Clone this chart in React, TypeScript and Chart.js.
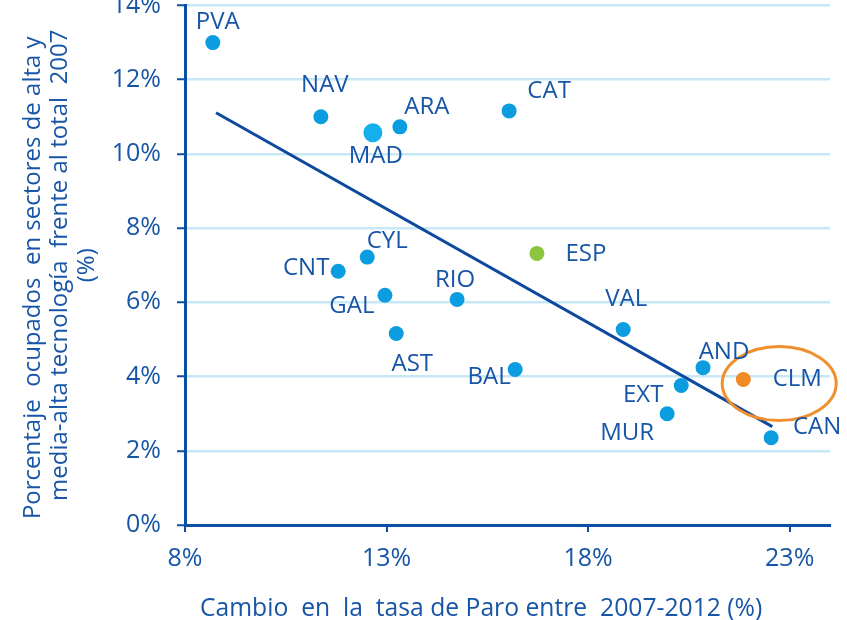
import React, { useEffect, useRef } from "react";
import { Chart, registerables } from "chart.js";

Chart.register(...registerables);

// ---- data ----
const regions = ["PVA", "NAV", "MAD", "ARA", "CAT", "ESP", "CYL", "CNT", "GAL", "RIO", "AST", "VAL", "BAL", "AND", "EXT", "MUR", "CLM", "CAN"];
const paroChange = [8.69, 11.37, 12.66, 13.33, 16.04, 16.73, 12.52, 11.80, 12.96, 14.75, 13.24, 18.87, 16.19, 20.85, 20.31, 19.96, 21.85, 22.54];
const highTechShare = [13.0, 11.0, 10.57, 10.73, 11.16, 7.32, 7.22, 6.84, 6.19, 6.08, 5.16, 5.27, 4.19, 4.24, 3.76, 3.0, 3.92, 2.35];
const trendX = [8.77, 22.57];
const trendY = [11.11, 2.65];
const xTicks = [8, 13, 18, 23];
const yTicks = [0, 2, 4, 6, 8, 10, 12, 14];
const highlight = { x: 22.74, y: 3.81 };
const xTitle = "Cambio  en  la  tasa de Paro entre  2007-2012 (%)";
const yTitle = ["Porcentaje  ocupados  en sectores de alta y    ", "media-alta tecnología  frente al total  2007", "(%)"];

// ---- styling (label placement in pixels relative to each point) ----
const labelOffsets: [number, number][] = [
  [5, -20], [4, -32], [3, 23], [27, -20], [40, -20], [49, 1], [20, -16], [-32, -3], [-33, 11],
  [-2, -19], [16, 31], [3, -30], [-26, 8], [21, -16], [-38, 10], [-40, 19], [54, 0], [46, -11],
];
const TEXT = "#1755a6";
const AXIS = "#0b4fa2";
const GRID = "#c8e7f7";
const DOT = "#0c9de0";
const FONT = "'Open Sans', sans-serif";

const pointColor = (r: string) => (r === "ESP" ? "#8cc63f" : r === "CLM" ? "#f28a26" : r === "MAD" ? "#14afec" : DOT);
const pointRadius = (r: string) => (r === "MAD" ? 9.5 : 7.5);

const labelPlugin = {
  id: "pointLabels",
  afterDatasetsDraw(chart: any) {
    const { ctx, scales, chartArea } = chart;
    const xs = scales.x, ys = scales.y;
    ctx.save();
    // highlight ellipse
    ctx.beginPath();
    ctx.ellipse(xs.getPixelForValue(highlight.x), ys.getPixelForValue(highlight.y), 57, 37, 0, 0, Math.PI * 2);
    ctx.strokeStyle = "#ef8f2e";
    ctx.lineWidth = 3;
    ctx.stroke();
    ctx.font = `24px ${FONT}`;
    ctx.fillStyle = TEXT;
    ctx.textAlign = "center";
    ctx.textBaseline = "middle";
    regions.forEach((r, i) => {
      const px = xs.getPixelForValue(paroChange[i]) + labelOffsets[i][0];
      const py = ys.getPixelForValue(highTechShare[i]) + labelOffsets[i][1];
      ctx.fillText(r, px, py);
    });
    // x axis title
    ctx.font = `24.7px ${FONT}`;
    ctx.textAlign = "left";
    ctx.textBaseline = "alphabetic";
    ctx.fillText(xTitle, chartArea.left + 15, chartArea.bottom + 91);
    ctx.restore();
  },
};

export default function App() {
  const ref = useRef<HTMLCanvasElement>(null);
  useEffect(() => {
    if (!ref.current) return;
    const chart = new Chart(ref.current, {
      type: "scatter",
      data: {
        datasets: [
          {
            type: "line",
            data: trendX.map((x, i) => ({ x, y: trendY[i] })),
            borderColor: "#0d4a9e",
            borderWidth: 3,
            pointRadius: 0,
            showLine: true,
            fill: false,
            order: 1,
          } as any,
          {
            data: paroChange.map((x, i) => ({ x, y: highTechShare[i] })),
            pointBackgroundColor: regions.map(pointColor),
            pointBorderWidth: 0,
            pointRadius: regions.map(pointRadius),
            order: 2,
          },
        ],
      },
      options: {
        animation: false,
        responsive: false,
        devicePixelRatio: 1,
        layout: { padding: { top: 5, right: 17, left: 0, bottom: 0 } },
        plugins: { legend: { display: false }, tooltip: { enabled: false } },
        scales: {
          x: {
            type: "linear",
            min: 8,
            max: 24,
            afterBuildTicks: (s: any) => { s.ticks = xTicks.map((v) => ({ value: v })); },
            afterFit: (s: any) => { s.height = 97; s.paddingLeft = 0; s.paddingRight = 0; },
            ticks: { color: TEXT, font: { family: FONT, size: 25 }, padding: 12, callback: (v: any) => `${v}%` },
            grid: { drawOnChartArea: false, drawTicks: true, tickLength: 7, tickColor: AXIS, lineWidth: 2 },
            border: { color: AXIS, width: 3 },
            title: { display: false },
          },
          y: {
            type: "linear",
            min: 0,
            max: 14,
            afterBuildTicks: (s: any) => { s.ticks = yTicks.map((v) => ({ value: v })); },
            afterFit: (s: any) => { s.width = 185; s.paddingTop = 0; s.paddingBottom = 0; },
            ticks: { color: TEXT, font: { family: FONT, size: 25 }, padding: 16, callback: (v: any) => `${v}%` },
            grid: { color: GRID, lineWidth: 2.5, drawTicks: true, tickLength: 8, tickColor: AXIS, tickWidth: 2 },
            border: { color: AXIS, width: 3 },
            title: {
              display: true,
              text: yTitle,
              color: TEXT,
              font: { family: FONT, size: 24, lineHeight: 1.125 },
              padding: { top: 20, bottom: 0 },
            },
          },
        },
      },
      plugins: [labelPlugin],
    });
    return () => chart.destroy();
  }, []);
  return (
    <div style={{ position: "absolute", left: 0, top: 0, width: 847, height: 620, overflow: "hidden", background: "#fff" }}>
      <canvas ref={ref} width={847} height={626} style={{ position: "absolute", left: 0, top: -4 }} />
    </div>
  );
}
